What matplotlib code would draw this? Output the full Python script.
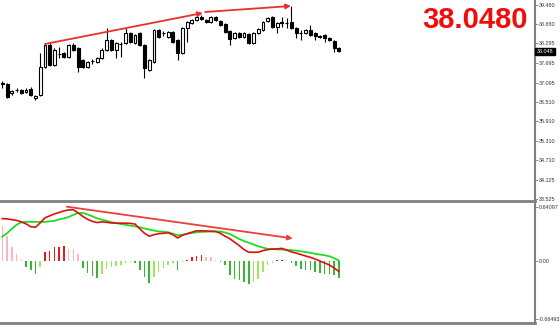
import matplotlib
matplotlib.use("Agg")
import matplotlib.pyplot as plt
import numpy as np

# price candles (open, high, low, close)
opens = [37.083, 37.052, 36.777, 36.868, 36.868, 36.807, 36.899, 36.623, 36.715, 37.572,
         38.246, 37.634, 37.971, 38.001, 37.879, 38.246, 38.154, 37.787, 37.572, 37.756,
         37.726, 37.848, 38.093, 38.399, 38.093, 38.277, 38.307, 38.614, 38.307, 38.614,
         38.246, 37.481, 37.726, 38.705, 38.614, 38.491, 38.644, 38.399, 38.001, 38.767,
         38.920, 39.012, 39.103, 39.012, 38.950, 39.103, 38.981, 38.889, 38.675, 38.461,
         38.614, 38.491, 38.583, 38.307, 38.614, 38.705, 38.981, 39.103, 38.797, 38.950,
         38.920, 38.950, 38.767, 38.614, 38.614, 38.705, 38.614, 38.522, 38.552, 38.461,
         38.369, 38.154]
highs = [37.144, 37.083, 36.868, 36.930, 36.899, 36.930, 36.960, 36.715, 38.001, 38.277,
         38.307, 38.154, 38.185, 38.032, 38.277, 38.307, 38.185, 37.818, 37.756, 37.818,
         37.879, 38.154, 38.767, 38.430, 38.338, 38.338, 38.767, 38.644, 38.583, 38.644,
         38.277, 37.818, 38.736, 38.736, 38.675, 38.675, 38.675, 38.430, 38.797, 38.981,
         39.042, 39.165, 39.165, 39.042, 39.134, 39.134, 39.012, 38.920, 38.705, 38.644,
         38.644, 38.644, 38.614, 38.644, 38.767, 38.981, 39.103, 39.134, 38.950, 39.103,
         39.073, 39.440, 38.797, 38.705, 38.736, 38.859, 38.644, 38.552, 38.583, 38.491,
         38.399, 38.185]
lows = [36.930, 36.623, 36.715, 36.807, 36.746, 36.777, 36.685, 36.562, 36.685, 37.542,
        37.603, 37.603, 37.848, 37.848, 37.848, 38.062, 37.420, 37.542, 37.542, 37.664,
        37.695, 37.818, 38.062, 38.062, 37.848, 37.879, 38.277, 38.307, 38.277, 38.216,
        37.236, 37.450, 37.695, 38.461, 38.522, 38.461, 38.307, 37.787, 37.971, 38.338,
        38.889, 38.981, 39.012, 38.920, 38.920, 38.981, 38.828, 38.614, 38.246, 38.430,
        38.461, 38.461, 38.277, 38.277, 38.583, 38.675, 38.950, 38.767, 38.614, 38.797,
        38.767, 38.736, 38.461, 38.399, 38.583, 38.522, 38.399, 38.461, 38.338, 38.369,
        38.032, 38.032]
closes = [37.052, 36.654, 36.838, 36.860, 36.777, 36.868, 36.715, 36.685, 37.572, 38.246,
          37.634, 38.093, 37.965, 37.879, 38.246, 38.093, 37.572, 37.572, 37.726, 37.750,
          37.848, 38.093, 38.399, 38.093, 38.307, 38.270, 38.614, 38.338, 38.552, 38.246,
          37.542, 37.787, 38.705, 38.491, 38.607, 38.644, 38.338, 38.001, 38.767, 38.950,
          39.012, 39.103, 39.042, 38.950, 39.103, 39.012, 38.859, 38.644, 38.430, 38.614,
          38.491, 38.614, 38.307, 38.614, 38.736, 38.950, 39.073, 38.797, 38.920, 38.920,
          38.915, 38.767, 38.614, 38.608, 38.705, 38.552, 38.522, 38.491, 38.461, 38.399,
          38.154, 38.048]

# MACD panel: histogram, red line, green line
hist = [0.416, 0.301, 0.173, 0.092, 0.023, -0.066, -0.104, -0.150, -0.069, 0.105,
        0.127, 0.165, 0.172, 0.178, 0.150, 0.146, 0.087, -0.081, -0.139, -0.173,
        -0.188, -0.150, -0.092, -0.069, -0.058, -0.035, -0.012, -0.009, -0.015, -0.104,
        -0.185, -0.246, -0.181, -0.124, -0.081, -0.046, -0.020, -0.104, -0.006, 0.020,
        0.050, 0.069, 0.081, 0.058, 0.055, 0.023, -0.006, -0.046, -0.162, -0.200,
        -0.220, -0.239, -0.258, -0.239, -0.200, -0.124, -0.046, -0.017, 0.017, 0.019,
        0.016, -0.012, -0.058, -0.084, -0.096, -0.104, -0.124, -0.135, -0.142, -0.150,
        -0.162, -0.188]
red_line = [0.500, 0.497, 0.488, 0.480, 0.462, 0.439, 0.405, 0.399, 0.451, 0.509,
            0.532, 0.555, 0.572, 0.590, 0.601, 0.603, 0.566, 0.526, 0.491, 0.468,
            0.454, 0.462, 0.457, 0.449, 0.447, 0.447, 0.447, 0.445, 0.436, 0.381,
            0.329, 0.295, 0.312, 0.324, 0.329, 0.335, 0.312, 0.274, 0.306, 0.324,
            0.341, 0.358, 0.358, 0.356, 0.353, 0.350, 0.329, 0.295, 0.266, 0.225,
            0.185, 0.139, 0.108, 0.108, 0.108, 0.127, 0.139, 0.145, 0.147, 0.153,
            0.133, 0.112, 0.098, 0.081, 0.064, 0.049, 0.029, 0.006, -0.017, -0.040,
            -0.075, -0.116]
green_line = [0.289, 0.329, 0.381, 0.428, 0.457, 0.462, 0.462, 0.462, 0.462, 0.462,
              0.468, 0.474, 0.491, 0.503, 0.520, 0.543, 0.566, 0.566, 0.549, 0.526,
              0.503, 0.488, 0.474, 0.459, 0.447, 0.437, 0.428, 0.418, 0.410, 0.399,
              0.385, 0.372, 0.361, 0.350, 0.347, 0.341, 0.324, 0.306, 0.312, 0.324,
              0.333, 0.340, 0.346, 0.347, 0.349, 0.350, 0.350, 0.338, 0.321, 0.291,
              0.262, 0.239, 0.220, 0.199, 0.178, 0.162, 0.147, 0.145, 0.141, 0.139,
              0.135, 0.132, 0.127, 0.118, 0.110, 0.101, 0.090, 0.081, 0.073, 0.061,
              0.040, 0.012]

price_ticks = [39.480, 38.880, 38.295, 37.695, 37.095, 36.510, 35.910, 35.310, 34.710, 34.125, 33.525]
macd_ticks = [0.64097, 0.00, -0.66493]
macd_labels = ["0.64097", "0.00", "-0.66493"]
last_price = 38.048
big_label = "38.0480"

# trend lines (bar index, value)
top_arrows = [((9.0, 38.277), (42.3, 39.226)), ((42.8, 39.257), (60.9, 39.440))]
macd_arrow = ((13.6, 0.639), (61.3, 0.269))

plt.rcParams['font.family'] = ['Liberation Sans', 'DejaVu Sans']

o = np.array(opens); h = np.array(highs); l = np.array(lows); c = np.array(closes)
x = np.arange(len(o))
axcol = '#808080'
lsize = 3.9

fig = plt.figure(figsize=(5.6, 3.27), dpi=100)
ax = fig.add_axes([0, 1 - 201 / 327, 535 / 560, 201 / 327])
ax2 = fig.add_axes([0, 4 / 327, 535 / 560, 120 / 327])

xlim = (-0.49, 112.4)

# candles
ax.vlines(x, l, h, color='black', lw=0.8, zorder=2)
up = c >= o
ax.bar(x[up], (c - o)[up], bottom=o[up], width=0.62, color='white',
       edgecolor='black', linewidth=0.8, zorder=3)
ax.bar(x[~up], (o - c)[~up], bottom=c[~up], width=0.62, color='black',
       edgecolor='black', linewidth=0.8, zorder=3)

for (x0, y0), (x1, y1) in top_arrows:
    ax.annotate('', xy=(x1, y1), xytext=(x0, y0),
                arrowprops=dict(arrowstyle='-|>', color='#e8302c', lw=1.3,
                                mutation_scale=7, shrinkA=0, shrinkB=0), zorder=5)

ax.set_xlim(*xlim)
ax.set_ylim(33.469, 39.624)
ax.set_xticks([])
ax.yaxis.tick_right()
ax.set_yticks(price_ticks)
ax.set_yticklabels([f"{t:.3f}" for t in price_ticks])
for s in ['top', 'left']:
    ax.spines[s].set_visible(False)
ax.spines['right'].set_color(axcol)
ax.spines['right'].set_linewidth(1.5)
ax.spines['bottom'].set_color(axcol)
ax.spines['bottom'].set_linewidth(2)
ax.tick_params(axis='y', colors=axcol, labelcolor='#333333', labelsize=lsize,
               length=1.8, width=0.6, pad=0.8)

ax.text(1.003, last_price, f"{last_price:.3f}", transform=ax.get_yaxis_transform(),
        ha='left', va='center', fontsize=lsize, color='white',
        bbox=dict(boxstyle='square,pad=0.25', fc='black', ec='black'), zorder=6,
        clip_on=False)

fig.text(528 / 560, 1 - 20 / 327, big_label, ha='right', va='center',
         fontsize=21, fontweight='bold', color='#f20d0d')

# MACD histogram colours
hv = np.array(hist)
prev = np.concatenate([[hv[0]], hv[:-1]])
cols = []
for v, p in zip(hv, prev):
    if v >= 0:
        cols.append('#e31a1c' if v > p else '#ffb3bf')
    else:
        cols.append('#35b82f' if v < p else '#9ee65a')
ax2.bar(x, hv, width=0.32, color=cols, zorder=2)
ax2.plot(x, green_line, color='#1fdc1f', lw=1.3, zorder=3)
ax2.plot(x, red_line, color='#e00f0f', lw=1.2, zorder=4)

(x0, y0), (x1, y1) = macd_arrow
ax2.annotate('', xy=(x1, y1), xytext=(x0, y0),
             arrowprops=dict(arrowstyle='-|>', color='#e8403c', lw=1.3,
                             mutation_scale=7, shrinkA=0, shrinkB=0), zorder=5)

ax2.set_xlim(*xlim)
ax2.set_ylim(-0.717, 0.682)
ax2.set_xticks([])
ax2.yaxis.tick_right()
ax2.set_yticks(macd_ticks)
ax2.set_yticklabels(macd_labels)
for s in ['top', 'left']:
    ax2.spines[s].set_visible(False)
ax2.spines['right'].set_color(axcol)
ax2.spines['right'].set_linewidth(1.5)
ax2.spines['bottom'].set_color(axcol)
ax2.spines['bottom'].set_linewidth(2)
ax2.tick_params(axis='y', colors=axcol, labelcolor='#333333', labelsize=lsize,
                length=1.8, width=0.6, pad=0.8)

fig.savefig('out.png', dpi=100, facecolor='white')
